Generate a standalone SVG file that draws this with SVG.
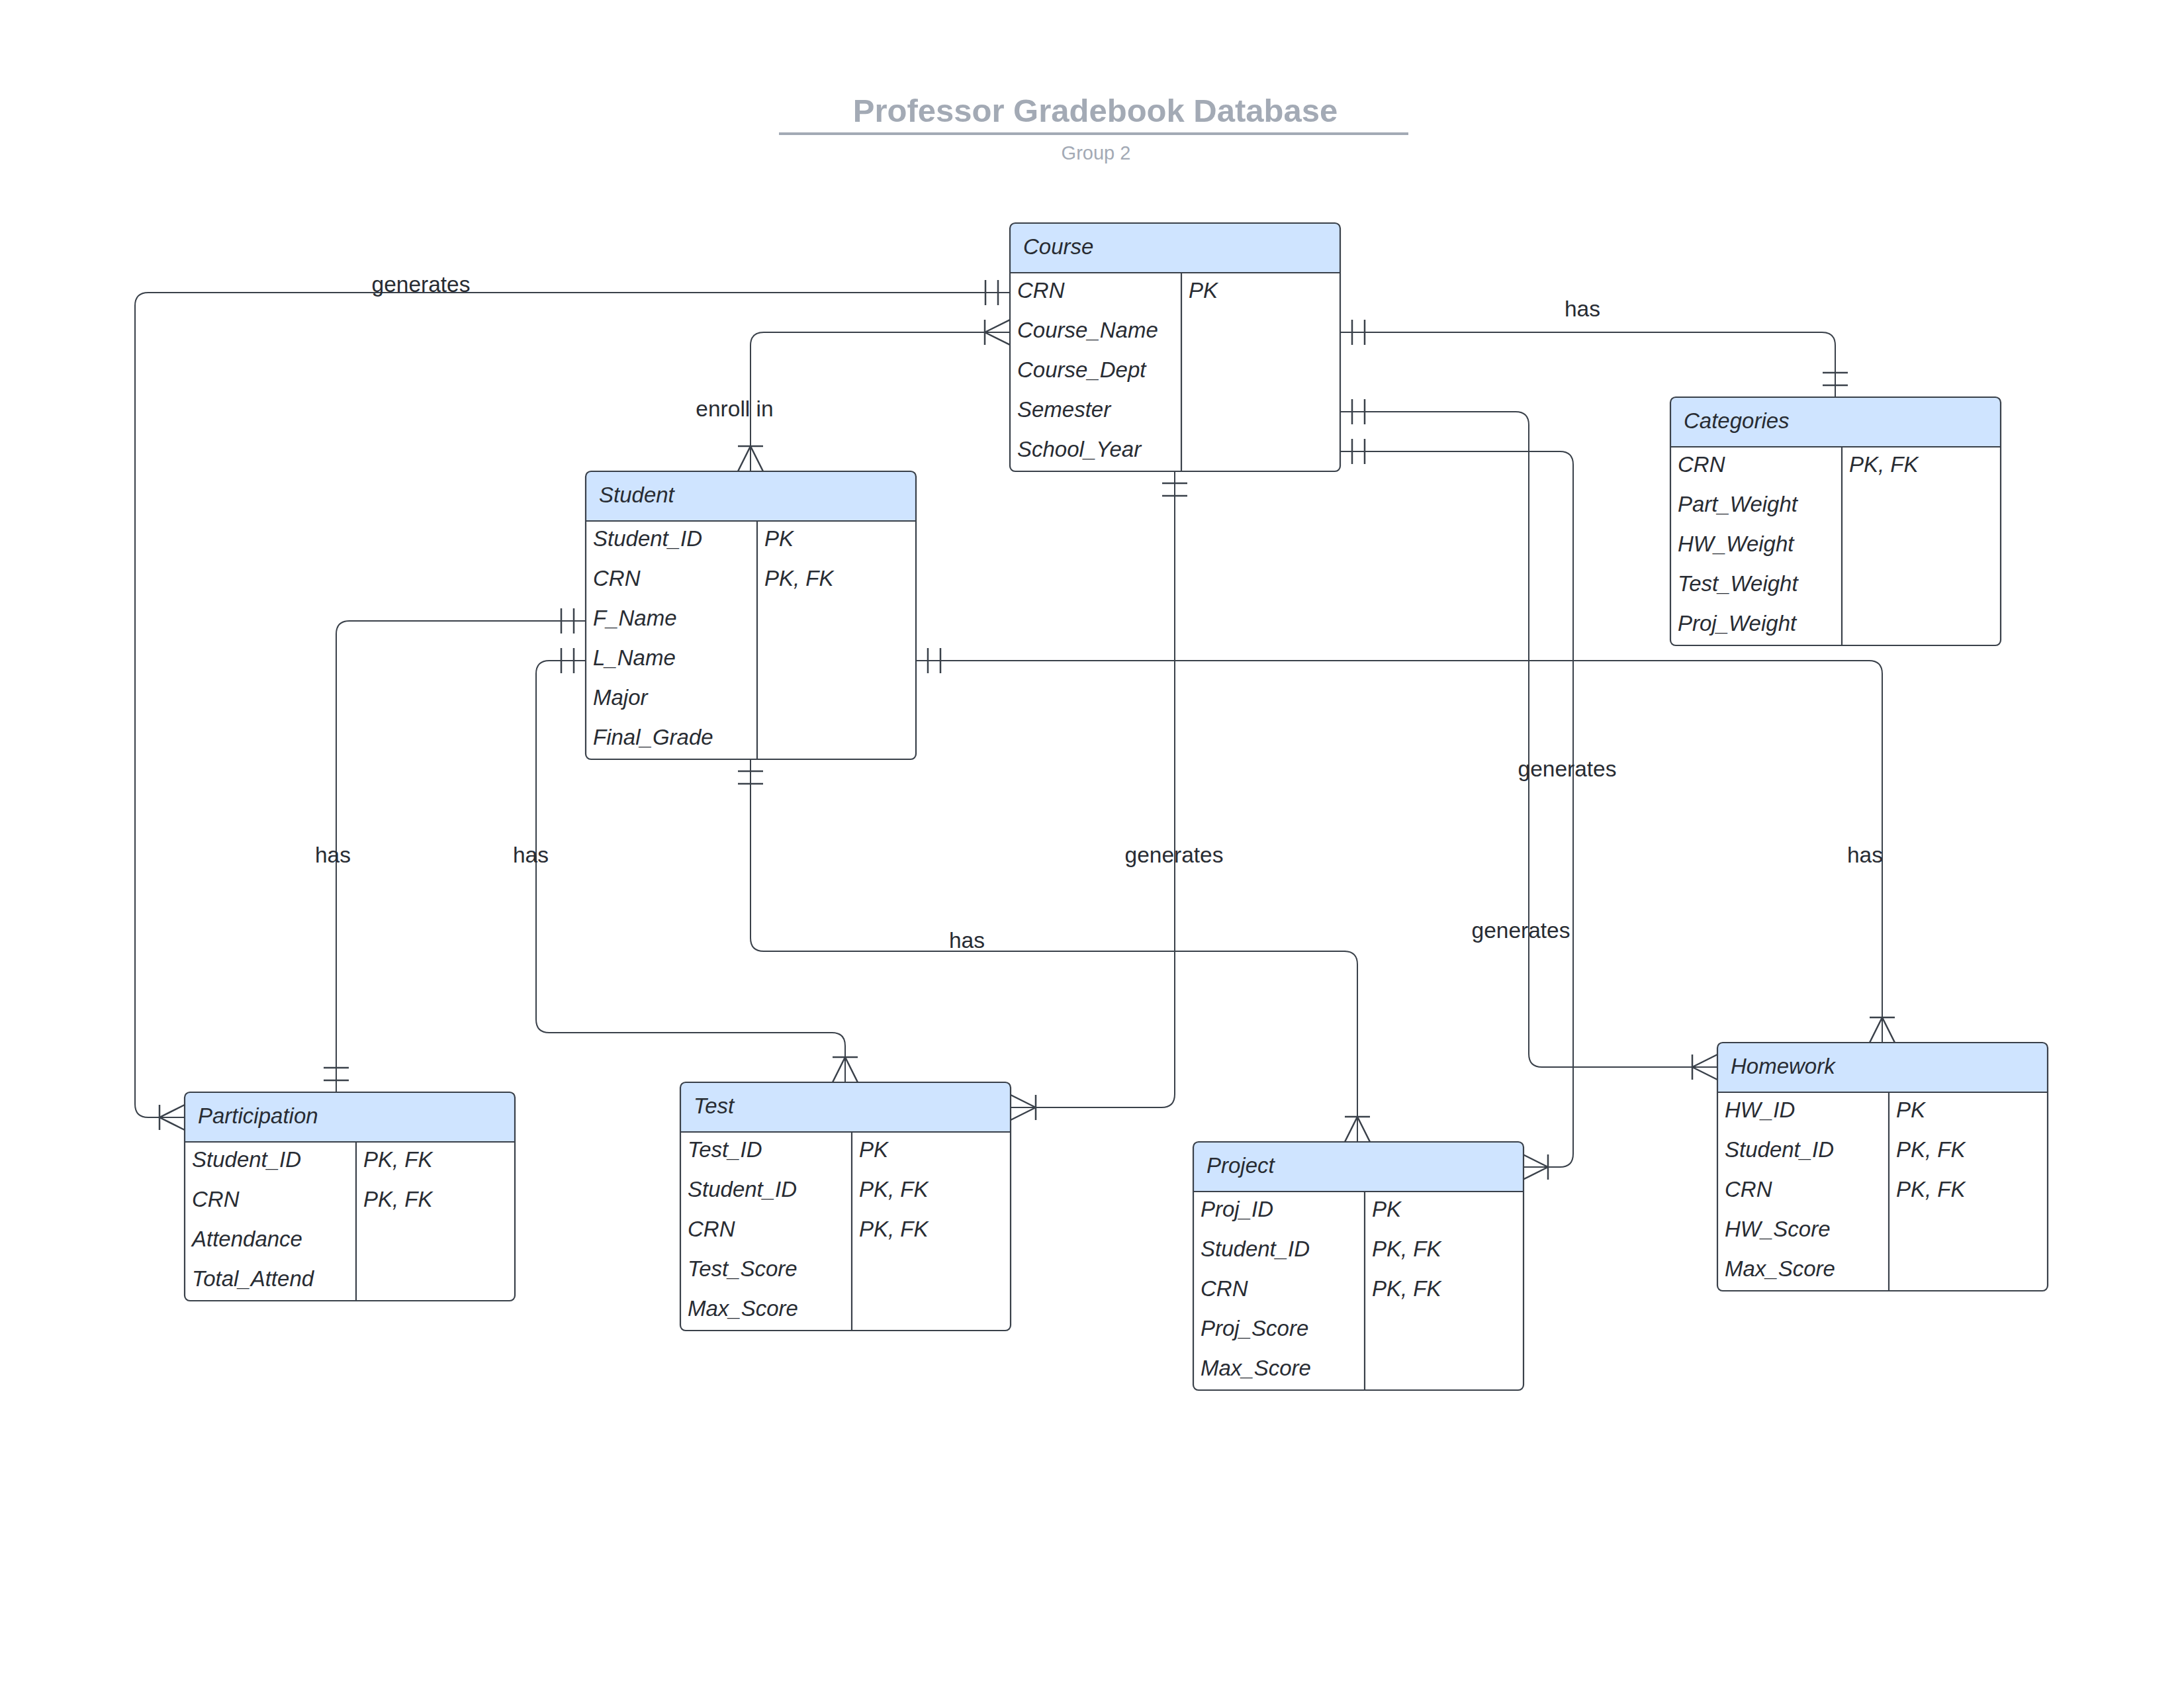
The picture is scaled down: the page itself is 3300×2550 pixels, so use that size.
<svg xmlns="http://www.w3.org/2000/svg" width="3300" height="2550" viewBox="0 0 3300 2550">
<style>
.bg{fill:#ffffff}
.box{fill:#ffffff;stroke:none}
.hdr{fill:#cfe4ff;stroke:none}
.outline{fill:none;stroke:#3a414a;stroke-width:2.2}
.sep{stroke:#3a414a;stroke-width:2.2}
.t{font-family:"Liberation Sans",Arial,sans-serif;font-size:33px;font-style:italic;fill:#282c33}
.lbl{font-family:"Liberation Sans",Arial,sans-serif;font-size:33.5px;fill:#282c33;text-anchor:middle}
.conn{fill:none;stroke:#3a414a;stroke-width:2}
.mk{fill:none;stroke:#3a414a;stroke-width:2.5}
.title{font-family:"Liberation Sans",Arial,sans-serif;font-size:49px;font-weight:bold;fill:#a3aab5;text-anchor:middle}
.sub{font-family:"Liberation Sans",Arial,sans-serif;font-size:29px;fill:#a3aab5;text-anchor:middle}
</style>
<defs>
<marker id="one" markerUnits="userSpaceOnUse" orient="auto-start-reverse" markerWidth="10" markerHeight="10" refX="0" refY="0" style="overflow:visible">
<path class="mk" d="M-18,-19 V19 M-37,-19 V19"/>
</marker>
<marker id="many" markerUnits="userSpaceOnUse" orient="auto-start-reverse" markerWidth="10" markerHeight="10" refX="0" refY="0" style="overflow:visible">
<path class="mk" d="M-38,-19 V19 M-38,0 L0,-19 M-38,0 L0,19"/>
</marker>
</defs>
<rect class="bg" x="0" y="0" width="3300" height="2550"/>

<g id="title">
<text class="title" x="1655" y="184">Professor Gradebook Database</text>
<line x1="1177" y1="202" x2="2128" y2="202" stroke="#a3aab5" stroke-width="4"/>
<text class="sub" x="1656" y="241">Group 2</text>
</g>

<g id="connectors">
<path class="conn" d="M1526,442 H224 Q204,442 204,462 V1668 Q204,1688 224,1688 H279" marker-start="url(#one)" marker-end="url(#many)"/>
<path class="conn" d="M1526,502 H1154 Q1134,502 1134,522 V712" marker-start="url(#many)" marker-end="url(#many)"/>
<path class="conn" d="M2025,502 H2753 Q2773,502 2773,522 V600" marker-start="url(#one)" marker-end="url(#one)"/>
<path class="conn" d="M2025,622 H2290 Q2310,622 2310,642 V1592 Q2310,1612 2330,1612 H2595" marker-start="url(#one)" marker-end="url(#many)"/>
<path class="conn" d="M2025,682 H2357 Q2377,682 2377,702 V1743 Q2377,1763 2357,1763 H2301" marker-start="url(#one)" marker-end="url(#many)"/>
<path class="conn" d="M1775,712 V1653 Q1775,1673 1755,1673 H1527" marker-start="url(#one)" marker-end="url(#many)"/>
<path class="conn" d="M885,938 H528 Q508,938 508,958 V1650" marker-start="url(#one)" marker-end="url(#one)"/>
<path class="conn" d="M885,998 H830 Q810,998 810,1018 V1540 Q810,1560 830,1560 H1257 Q1277,1560 1277,1580 V1635" marker-start="url(#one)" marker-end="url(#many)"/>
<path class="conn" d="M1134,1147 V1417 Q1134,1437 1154,1437 H2031 Q2051,1437 2051,1457 V1725" marker-start="url(#one)" marker-end="url(#many)"/>
<path class="conn" d="M1384,998 H2824 Q2844,998 2844,1018 V1575" marker-start="url(#one)" marker-end="url(#many)"/>
<text class="lbl" x="636" y="441">generates</text>
<text class="lbl" x="1110" y="629">enroll in</text>
<text class="lbl" x="2391" y="478">has</text>
<text class="lbl" x="503" y="1303">has</text>
<text class="lbl" x="802" y="1303">has</text>
<text class="lbl" x="1774" y="1303">generates</text>
<text class="lbl" x="1461" y="1432">has</text>
<text class="lbl" x="2368" y="1173">generates</text>
<text class="lbl" x="2298" y="1417">generates</text>
<text class="lbl" x="2818" y="1303">has</text>
</g>

<g id="course" transform="translate(1526,337)">
<rect class="box" x="0" y="0" width="499" height="375" rx="8"/>
<path class="hdr" d="M0,75 V8 Q0,0 8,0 H491 Q499,0 499,8 V75 Z"/>
<line class="sep" x1="0" y1="75" x2="499" y2="75"/>
<line class="sep" x1="259" y1="75" x2="259" y2="375"/>
<rect class="outline" x="0" y="0" width="499" height="375" rx="8"/>
<text class="t" x="20" y="47">Course</text>
<text class="t" x="11" y="113">CRN</text><text class="t" x="270" y="113">PK</text>
<text class="t" x="11" y="173">Course_Name</text>
<text class="t" x="11" y="233">Course_Dept</text>
<text class="t" x="11" y="293">Semester</text>
<text class="t" x="11" y="353">School_Year</text>
</g>

<g id="student" transform="translate(885,712)">
<rect class="box" x="0" y="0" width="499" height="435" rx="8"/>
<path class="hdr" d="M0,75 V8 Q0,0 8,0 H491 Q499,0 499,8 V75 Z"/>
<line class="sep" x1="0" y1="75" x2="499" y2="75"/>
<line class="sep" x1="259" y1="75" x2="259" y2="435"/>
<rect class="outline" x="0" y="0" width="499" height="435" rx="8"/>
<text class="t" x="20" y="47">Student</text>
<text class="t" x="11" y="113">Student_ID</text><text class="t" x="270" y="113">PK</text>
<text class="t" x="11" y="173">CRN</text><text class="t" x="270" y="173">PK, FK</text>
<text class="t" x="11" y="233">F_Name</text>
<text class="t" x="11" y="293">L_Name</text>
<text class="t" x="11" y="353">Major</text>
<text class="t" x="11" y="413">Final_Grade</text>
</g>

<g id="categories" transform="translate(2524,600)">
<rect class="box" x="0" y="0" width="499" height="375" rx="8"/>
<path class="hdr" d="M0,75 V8 Q0,0 8,0 H491 Q499,0 499,8 V75 Z"/>
<line class="sep" x1="0" y1="75" x2="499" y2="75"/>
<line class="sep" x1="259" y1="75" x2="259" y2="375"/>
<rect class="outline" x="0" y="0" width="499" height="375" rx="8"/>
<text class="t" x="20" y="47">Categories</text>
<text class="t" x="11" y="113">CRN</text><text class="t" x="270" y="113">PK, FK</text>
<text class="t" x="11" y="173">Part_Weight</text>
<text class="t" x="11" y="233">HW_Weight</text>
<text class="t" x="11" y="293">Test_Weight</text>
<text class="t" x="11" y="353">Proj_Weight</text>
</g>

<g id="participation" transform="translate(279,1650)">
<rect class="box" x="0" y="0" width="499" height="315" rx="8"/>
<path class="hdr" d="M0,75 V8 Q0,0 8,0 H491 Q499,0 499,8 V75 Z"/>
<line class="sep" x1="0" y1="75" x2="499" y2="75"/>
<line class="sep" x1="259" y1="75" x2="259" y2="315"/>
<rect class="outline" x="0" y="0" width="499" height="315" rx="8"/>
<text class="t" x="20" y="47">Participation</text>
<text class="t" x="11" y="113">Student_ID</text><text class="t" x="270" y="113">PK, FK</text>
<text class="t" x="11" y="173">CRN</text><text class="t" x="270" y="173">PK, FK</text>
<text class="t" x="11" y="233">Attendance</text>
<text class="t" x="11" y="293">Total_Attend</text>
</g>

<g id="test" transform="translate(1028,1635)">
<rect class="box" x="0" y="0" width="499" height="375" rx="8"/>
<path class="hdr" d="M0,75 V8 Q0,0 8,0 H491 Q499,0 499,8 V75 Z"/>
<line class="sep" x1="0" y1="75" x2="499" y2="75"/>
<line class="sep" x1="259" y1="75" x2="259" y2="375"/>
<rect class="outline" x="0" y="0" width="499" height="375" rx="8"/>
<text class="t" x="20" y="47">Test</text>
<text class="t" x="11" y="113">Test_ID</text><text class="t" x="270" y="113">PK</text>
<text class="t" x="11" y="173">Student_ID</text><text class="t" x="270" y="173">PK, FK</text>
<text class="t" x="11" y="233">CRN</text><text class="t" x="270" y="233">PK, FK</text>
<text class="t" x="11" y="293">Test_Score</text>
<text class="t" x="11" y="353">Max_Score</text>
</g>

<g id="project" transform="translate(1803,1725)">
<rect class="box" x="0" y="0" width="499" height="375" rx="8"/>
<path class="hdr" d="M0,75 V8 Q0,0 8,0 H491 Q499,0 499,8 V75 Z"/>
<line class="sep" x1="0" y1="75" x2="499" y2="75"/>
<line class="sep" x1="259" y1="75" x2="259" y2="375"/>
<rect class="outline" x="0" y="0" width="499" height="375" rx="8"/>
<text class="t" x="20" y="47">Project</text>
<text class="t" x="11" y="113">Proj_ID</text><text class="t" x="270" y="113">PK</text>
<text class="t" x="11" y="173">Student_ID</text><text class="t" x="270" y="173">PK, FK</text>
<text class="t" x="11" y="233">CRN</text><text class="t" x="270" y="233">PK, FK</text>
<text class="t" x="11" y="293">Proj_Score</text>
<text class="t" x="11" y="353">Max_Score</text>
</g>

<g id="homework" transform="translate(2595,1575)">
<rect class="box" x="0" y="0" width="499" height="375" rx="8"/>
<path class="hdr" d="M0,75 V8 Q0,0 8,0 H491 Q499,0 499,8 V75 Z"/>
<line class="sep" x1="0" y1="75" x2="499" y2="75"/>
<line class="sep" x1="259" y1="75" x2="259" y2="375"/>
<rect class="outline" x="0" y="0" width="499" height="375" rx="8"/>
<text class="t" x="20" y="47">Homework</text>
<text class="t" x="11" y="113">HW_ID</text><text class="t" x="270" y="113">PK</text>
<text class="t" x="11" y="173">Student_ID</text><text class="t" x="270" y="173">PK, FK</text>
<text class="t" x="11" y="233">CRN</text><text class="t" x="270" y="233">PK, FK</text>
<text class="t" x="11" y="293">HW_Score</text>
<text class="t" x="11" y="353">Max_Score</text>
</g>
</svg>
